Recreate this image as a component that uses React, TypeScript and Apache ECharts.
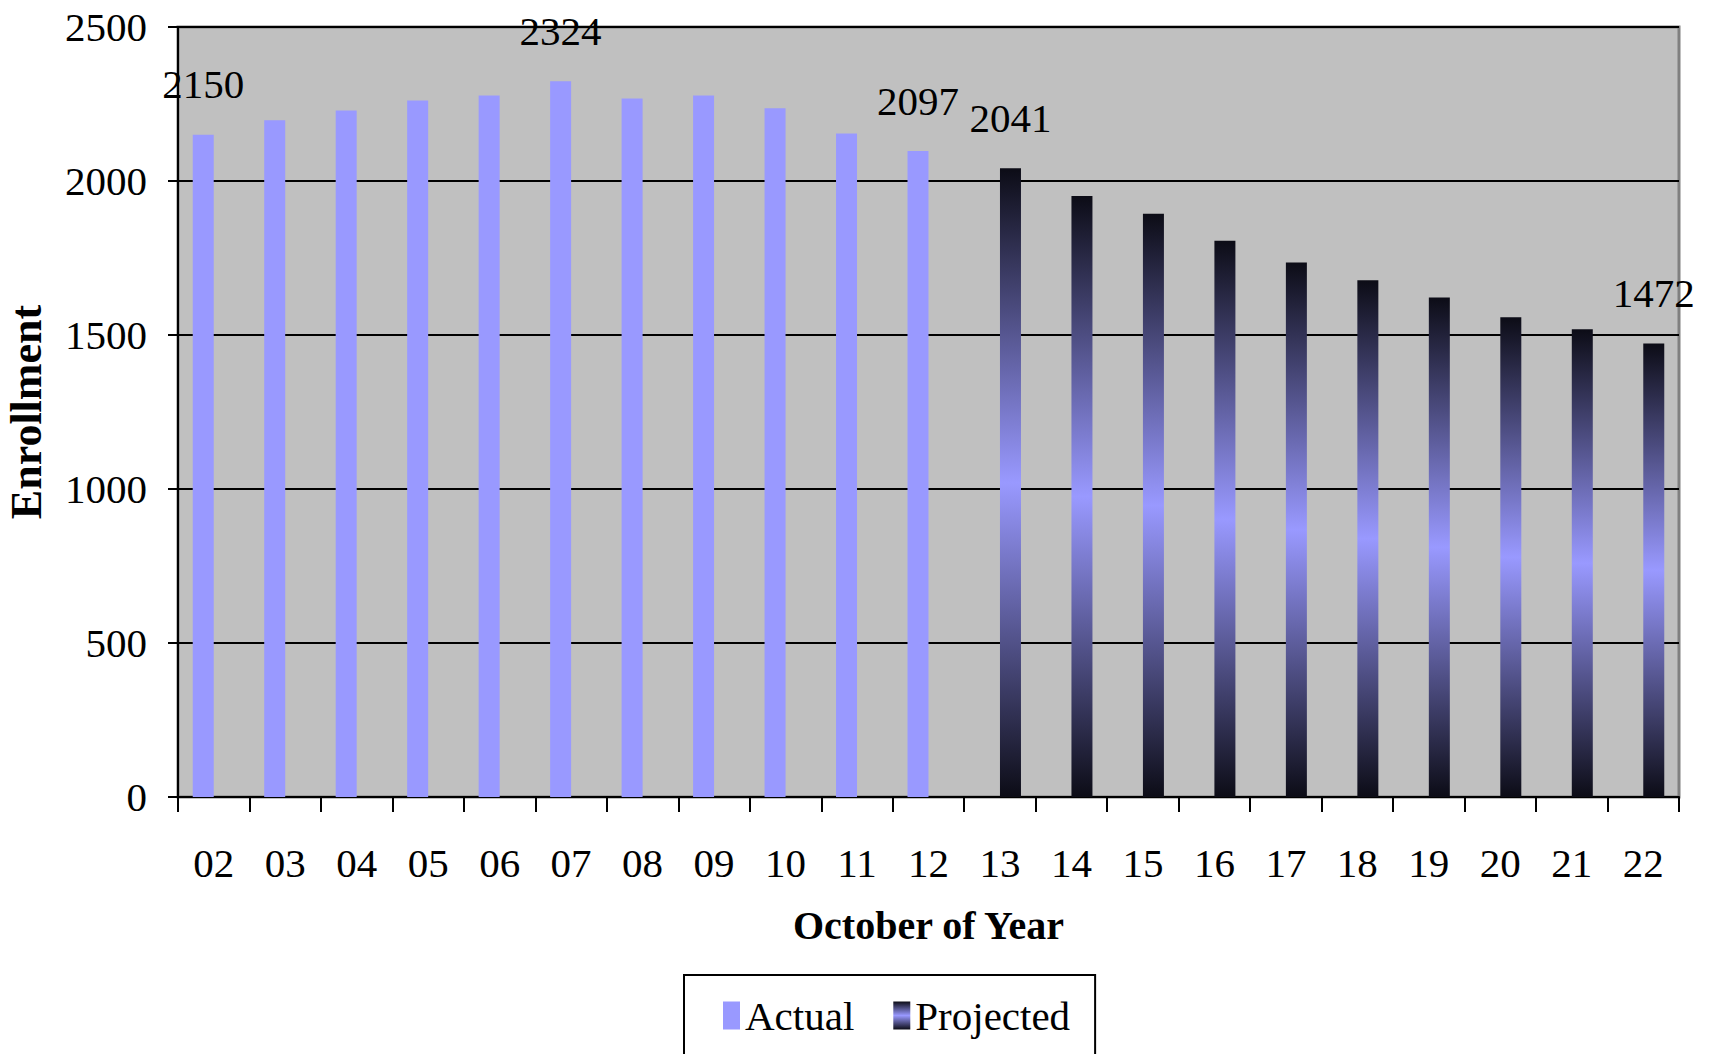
import React, { useEffect, useRef } from "react";
import * as echarts from "echarts";

const years = ["02", "03", "04", "05", "06", "07", "08", "09", "10", "11", "12", "13", "14", "15", "16", "17", "18", "19", "20", "21", "22"];
const actual: (number | null)[] = [2150, 2197, 2229, 2261, 2278, 2324, 2268, 2278, 2236, 2154, 2097, null, null, null, null, null, null, null, null, null, null];
const projected: (number | null)[] = [null, null, null, null, null, null, null, null, null, null, null, 2041, 1951, 1894, 1806, 1735, 1678, 1622, 1558, 1519, 1472];
const labeledYears = ["02", "07", "12", "13", "22"];
const yTicks = { min: 0, max: 2500, interval: 500 };

const FONT = "'Liberation Serif', 'Times New Roman', serif";

function toItems(values: (number | null)[]) {
  return values.map((v, i) => {
    if (v === null) return null;
    if (labeledYears.includes(years[i])) {
      return { value: v, label: { show: true } };
    }
    return v;
  });
}

export default function App() {
  const ref = useRef<HTMLDivElement>(null);
  useEffect(() => {
    if (!ref.current) return;
    const chart = echarts.init(ref.current, null, { renderer: "svg" });
    const projGrad = new echarts.graphic.LinearGradient(0, 0, 0, 1, [
      { offset: 0, color: "#0c0c16" },
      { offset: 0.5, color: "#9999ff" },
      { offset: 1, color: "#0c0c16" },
    ]);
    const labelStyle = {
      show: false,
      position: "top" as const,
      distance: 30,
      fontFamily: FONT,
      fontSize: 41,
      color: "#000",
    };
    chart.setOption({
      animation: false,
      backgroundColor: "#ffffff",
      grid: {
        left: 178,
        right: 31,
        top: 27,
        bottom: 257,
        show: true,
        backgroundColor: "#c0c0c0",
        borderColor: "#808080",
        borderWidth: 3,
        containLabel: false,
        outerBoundsMode: "none",
      },
      legend: {
        left: 684,
        top: 975,
        padding: [20, 25, 40, 39],
        itemGap: 39,
        itemWidth: 17,
        itemHeight: 28,
        borderColor: "#000",
        borderWidth: 2,
        backgroundColor: "#fff",
        icon: "rect",
        textStyle: { fontFamily: FONT, fontSize: 41, color: "#000" },
        data: ["Actual", "Projected"],
      },
      xAxis: {
        type: "category",
        data: years,
        name: "October of Year",
        nameLocation: "middle",
        nameGap: 108,
        nameTextStyle: { fontFamily: FONT, fontSize: 40, fontWeight: "bold", color: "#000" },
        axisLine: { lineStyle: { color: "#000", width: 2 } },
        axisTick: { show: true, length: 15, lineStyle: { color: "#000", width: 2 } },
        axisLabel: { fontFamily: FONT, fontSize: 41, color: "#000", margin: 45 },
      },
      yAxis: {
        type: "value",
        min: yTicks.min,
        max: yTicks.max,
        interval: yTicks.interval,
        name: "Enrollment",
        nameLocation: "middle",
        nameGap: 130,
        nameTextStyle: { fontFamily: FONT, fontSize: 44, fontWeight: "bold", color: "#000" },
        axisLine: { show: true, lineStyle: { color: "#000", width: 2 } },
        axisTick: { show: true, length: 10, lineStyle: { color: "#000", width: 2 } },
        axisLabel: {
          fontFamily: FONT,
          fontSize: 41,
          color: "#000",
          margin: 31,
          formatter: (v: number) => String(v),
        },
        splitLine: { show: true, lineStyle: { color: "#000", width: 2 } },
      },
      series: [
        {
          name: "Actual",
          type: "bar",
          data: toItems(actual),
          barWidth: 21,
          barGap: "0%",
          itemStyle: { color: "#9999ff" },
          label: labelStyle,
        },
        {
          name: "Projected",
          type: "bar",
          data: toItems(projected),
          barWidth: 21,
          barGap: "0%",
          itemStyle: { color: projGrad },
          label: labelStyle,
        },
      ],
    });
    return () => chart.dispose();
  }, []);
  return (
    <div
      ref={ref}
      style={{ position: "fixed", left: 0, top: 0, width: 1710, height: 1054 }}
    />
  );
}
